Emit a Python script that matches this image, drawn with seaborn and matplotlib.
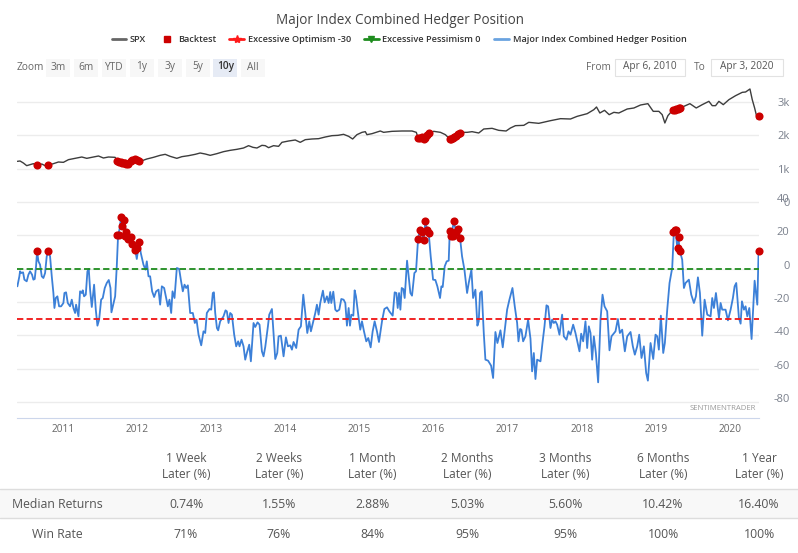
import numpy as np
import pandas as pd
import matplotlib
matplotlib.use('Agg')
import matplotlib.pyplot as plt
import matplotlib.transforms as mtrans
from matplotlib.lines import Line2D
from matplotlib.patches import Rectangle
import seaborn as sns

# all times are in years since 2010
spx_t = [.265,.301,.346,.391,.436,.481,.526,.594,.639,.684,.751,.819,.886,.954,1.044,1.134,1.201,1.269,1.359,1.426,
	1.494,1.584,1.615,1.674,1.755,1.795,1.854,1.912,2.011,2.101,2.191,2.259,2.326,2.416,2.484,2.574,2.664,2.731,2.799,2.866,
	2.956,3.046,3.136,3.226,3.316,3.384,3.443,3.497,3.564,3.609,3.654,3.721,3.789,3.834,3.924,4.014,4.081,4.149,4.239,4.329,
	4.419,4.509,4.59,4.666,4.734,4.788,4.846,4.914,4.959,4.981,5.049,5.161,5.206,5.319,5.454,5.589,5.647,5.67,5.724,5.756,
	5.814,5.882,5.972,6.039,6.107,6.174,6.242,6.332,6.399,6.489,6.557,6.669,6.759,6.858,6.917,6.984,7.097,7.164,7.299,7.457,
	7.592,7.727,7.817,7.952,8.042,8.078,8.123,8.186,8.249,8.312,8.379,8.492,8.582,8.672,8.771,8.843,8.919,8.964,9.0,9.041,
	9.099,9.167,9.257,9.338,9.423,9.504,9.594,9.639,9.684,9.729,9.788,9.864,9.954,10.044,10.089,10.148,10.179,10.211,10.247,10.269]
spx_val = [1220,1230,1170,1090,1120,1150,1100,1140,1090,1110,1150,1200,1190,1270,1310,1350,1310,1340,1380,1320,
	1350,1340,1220,1190,1140,1220,1290,1210,1290,1340,1400,1430,1370,1310,1360,1390,1430,1470,1440,1400,
	1450,1510,1550,1580,1620,1690,1640,1620,1700,1690,1630,1690,1670,1790,1830,1860,1790,1870,1890,1900,
	1950,1990,2000,2030,1970,1890,2020,2090,2110,2020,2050,2130,2090,2120,2130,2130,2090,1920,1950,1890,
	2070,2120,2090,2020,1870,1970,2090,2090,2110,2070,2190,2210,2150,2130,2220,2290,2300,2390,2360,2440,
	2500,2490,2570,2650,2770,2850,2670,2750,2620,2690,2670,2790,2820,2910,2950,2720,2720,2620,2370,2590,
	2740,2800,2870,2950,2820,2920,3020,2890,2890,3020,2920,3070,3190,3290,3300,3390,3070,2820,2490,2590]

hedger_t = [.265,.292,.301,.319,.342,.36,.391,.414,.436,.463,.481,.499,.517,.531,.549,.571,.594,.616,.639,.661,
	.684,.706,.729,.751,.765,.783,.805,.828,.855,.886,.9,.922,.945,.976,.999,1.021,1.044,1.057,1.089,1.111,
	1.134,1.147,1.165,1.188,1.21,1.228,1.246,1.269,1.3,1.323,1.345,1.368,1.395,1.417,1.444,1.471,1.498,1.521,1.534,1.561,
	1.584,1.606,1.624,1.642,1.665,1.678,1.705,1.732,1.759,1.786,1.818,1.854,1.876,1.908,1.93,1.966,1.993,2.011,2.034,2.056,
	2.083,2.11,2.137,2.169,2.191,2.214,2.245,2.268,2.295,2.317,2.34,2.358,2.385,2.416,2.448,2.47,2.497,2.52,2.542,2.565,
	2.596,2.632,2.659,2.682,2.709,2.745,2.776,2.799,2.821,2.857,2.88,2.902,2.916,2.934,2.957,2.974,3.001,3.046,3.073,3.091,
	3.114,3.136,3.159,3.19,3.217,3.244,3.262,3.289,3.316,3.339,3.361,3.393,3.415,3.451,3.474,3.505,3.532,3.564,3.586,3.609,
	3.645,3.663,3.699,3.721,3.744,3.771,3.789,3.82,3.856,3.888,3.915,3.946,3.969,3.991,4.027,4.059,4.09,4.122,4.149,4.176,
	4.203,4.225,4.252,4.284,4.306,4.329,4.351,4.387,4.41,4.441,4.464,4.486,4.5,4.527,4.554,4.576,4.608,4.635,4.666,4.689,
	4.711,4.734,4.752,4.77,4.797,4.815,4.833,4.869,4.891,4.914,4.941,4.972,4.999,5.031,5.058,5.085,5.116,5.143,5.184,5.216,
	5.252,5.283,5.328,5.355,5.378,5.396,5.414,5.432,5.45,5.472,5.49,5.522,5.544,5.567,5.589,5.621,5.643,5.67,5.693,5.715,
	5.747,5.769,5.792,5.814,5.841,5.873,5.904,5.931,5.967,5.985,6.003,6.03,6.057,6.084,6.098,6.12,6.152,6.183,6.215,6.237,
	6.264,6.296,6.332,6.354,6.39,6.413,6.444,6.471,6.489,6.507,6.53,6.557,6.579,6.615,6.656,6.683,6.714,6.741,6.782,6.813,
	6.84,6.872,6.903,6.944,6.975,7.007,7.025,7.047,7.065,7.088,7.119,7.155,7.187,7.209,7.232,7.254,7.277,7.322,7.349,7.376,
	7.403,7.425,7.457,7.479,7.502,7.524,7.547,7.578,7.614,7.637,7.673,7.7,7.727,7.763,7.794,7.848,7.871,7.898,7.929,7.952,
	7.974,7.997,8.019,8.042,8.069,8.1,8.132,8.159,8.186,8.222,8.253,8.28,8.334,8.366,8.393,8.424,8.46,8.492,8.537,8.568,
	8.595,8.627,8.654,8.685,8.717,8.748,8.771,8.807,8.843,8.874,8.897,8.919,8.946,8.978,9.0,9.032,9.063,9.099,9.122,9.144,
	9.167,9.18,9.203,9.234,9.257,9.279,9.324,9.356,9.392,9.419,9.446,9.473,9.504,9.536,9.572,9.617,9.639,9.662,9.689,9.73,
	9.752,9.774,9.819,9.851,9.887,9.918,9.941,9.963,9.999,10.022,10.04,10.067,10.089,10.112,10.139,10.17,10.211,10.247,10.265]
hedger_val = [-10.6,-4.6,-1.6,-2.6,-2.2,-6.6,-7.6,-3.6,-1.6,-3.6,-6.6,-6.2,1.4,10.4,4.4,2.4,-4.6,-5.6,-2.6,7.4,
	10.4,7.4,-4.6,-14.6,-23.6,-17.6,-16.6,-22.6,-22.6,-20.6,-14.6,-14.2,-20.6,-22.6,-18.6,-23.6,-26.6,-21.6,-28.6,-13.6,
	-14.6,-13,-16.6,-15.6,-1.6,-.2,-12.6,-23,-9.6,-24.6,-34.2,-30.6,-18.6,-17.6,-11.6,-8.6,-6.8,-11.6,-26.2,-21,
	-16.6,1.4,20.4,23.4,31,25.8,29,21.8,17.8,19.4,15,11.4,5.8,15.8,9.4,2.4,-.6,4.4,-4.6,-4.6,
	-13.6,-17,-13.6,-12.6,-21.6,-10.6,-11.6,-16.6,-22.6,-18.6,-26.6,-13.6,-17.6,.4,-.2,-6.6,-13.6,-9.6,-11.6,-10,
	-26.6,-26.6,-32.6,-30.6,-39.6,-46,-37.6,-38.6,-26.6,-24.2,-24.6,-14.6,-14.2,-26.6,-35.6,-37,-31.6,-28.6,-25,-25.6,
	-32.6,-26.6,-27.6,-39.6,-46.6,-43.6,-46.6,-42.6,-46.6,-54.6,-50.6,-45.6,-55.6,-32.6,-35,-32.2,-33.6,-49.6,-52.6,-47,
	-34.6,-27.6,-24.2,-38.6,-54.2,-50.6,-40.6,-40.2,-52.6,-41.2,-46.6,-46,-48.6,-44,-47.6,-36.6,-34.6,-15.6,-26.6,-38.6,
	-31.6,-37.6,-32.6,-26.6,-21.6,-27.6,-20.6,-13.2,-20.2,-16.6,-20.6,-14,-20.6,-13.8,-24.6,-25.6,-24.6,-18.2,-18.6,-20.6,
	-34.2,-23.6,-34.2,-27.6,-28.2,-13,-16.6,-29.6,-36.6,-31.6,-37.6,-43.6,-41.6,-47.2,-37.6,-31.6,-37.6,-44,-31.6,-24.2,
	-23.2,-25.6,-28.2,-14.2,-14.6,-23.6,-14.6,-24.6,-11.6,-12.2,-17.6,4.8,-4.6,-14.6,-16.2,-2.6,-1.6,17.4,23,22.4,
	17,28.8,23.4,21.4,7.4,-6.6,-6.8,-10.6,-17.6,-10.6,-11,1.4,4.4,4.8,22.4,19.4,28.4,22.4,24,18.4,
	7.4,-.6,-14.6,-8.6,-.6,-17.6,-12.6,-34.2,-31.6,-14.6,-13.6,-38.6,-54.6,-55.2,-58.2,-65.6,-38,-44.6,-37,-47.2,
	-36.6,-24.6,-18.6,-11.6,-22.6,-32.6,-43.6,-36.2,-36.6,-43.6,-40.6,-30.6,-42,-61.6,-50.6,-66.2,-54.6,-55.6,-44.6,-34.6,
	-22,-22.6,-35.6,-30.6,-32.6,-31.6,-33.6,-39.6,-27.6,-40.6,-42.6,-37.6,-39.6,-33.6,-38.6,-49.6,-39,-43.6,-31.6,-47.6,
	-34.6,-38.6,-54.6,-40.6,-50.6,-68.2,-30.6,-15.6,-22.6,-25.6,-49,-40.6,-37.6,-30.2,-38.6,-36.6,-49.6,-40.6,-38,-46.6,
	-51.6,-46.6,-39.6,-53.6,-46.6,-62.6,-67.2,-44.6,-54.2,-39.6,-40.6,-48.6,-28.2,-50.6,-44.6,-24.6,-8.6,.4,22.4,23.8,
	12.4,19.4,10.4,5.4,-11.6,-8.6,-6.6,-15.6,-20.6,-16.6,-5.2,-14.6,-40.2,-18.6,-27.6,-28.6,-17.6,-23.6,-14.6,-29.6,
	-20.6,-24.6,-24.6,-31,-24.6,-17.6,-10.6,-8.6,-29.6,-33,-19.6,-24.6,-22.6,-28.6,-23.6,-42.2,-7.2,-21.6,11.4]

backtest_t = [.531,.684,1.615,1.642,1.665,1.683,1.705,1.723,1.732,1.759,1.795,1.818,1.854,1.885,1.908,
	5.675,5.697,5.724,5.751,5.769,5.792,5.814,6.098,6.12,6.138,6.152,6.183,6.215,6.237,
	9.108,9.131,9.153,9.171,9.194,9.207,10.265]
backtest_val = [10.8,10.8,20.4,20.4,31,25.8,29,19.8,21.8,17.8,19.2,15,11.4,12.4,15.8,
	17.8,23,21.8,17,28.8,23,21.2,22.4,19.4,19.4,28.4,22,24,18.4,
	21.8,23.4,23.2,12.4,19,10.4,10.8]

optimism_level = -30
pessimism_level = 0
years = list(range(2011, 2021))
upper_ticks = [0, 1000, 2000, 3000]
upper_labels = ['0', '1k', '2k', '3k']
lower_ticks = [40, 20, 0, -20, -40, -60, -80]

zoom_labels = ['3m', '6m', 'YTD', '1y', '3y', '5y', '10y', 'All']
col_titles = ['1 Week', '2 Weeks', '1 Month', '2 Months', '3 Months', '6 Months', '1 Year']
median_returns = ['0.74%', '1.55%', '2.88%', '5.03%', '5.60%', '10.42%', '16.40%']
win_rate = ['71%', '76%', '84%', '95%', '95%', '100%', '100%']

W, H = 798, 553
GRID = '#ececec'
TXT = '#555555'
BLUE = '#3c80d8'
DOT = '#cc0000'


def fx(px):
	return px / W


def fy(px):
	return 1 - px / H


def label(x, y, s, size=8.5, color=TXT, ha='center', **kwargs):
	fig.text(fx(x), fy(y), s, fontsize=size, color=color, ha=ha, va='center', **kwargs)


def box(x0, y0, x1, y1, **kwargs):
	fig.add_artist(Rectangle((fx(x0), fy(y1)), (x1 - x0) / W, (y1 - y0) / H, transform=fig.transFigure, **kwargs))


sns.set_style('white')
plt.rcParams['font.family'] = ['Open Sans', 'DejaVu Sans']

spx = pd.DataFrame({'year': 2010 + np.array(spx_t), 'value': spx_val})
hedger = pd.DataFrame({'year': 2010 + np.array(hedger_t), 'value': hedger_val})
backtest = pd.DataFrame({'year': 2010 + np.array(backtest_t), 'hedger': backtest_val})
backtest['spx'] = np.interp(backtest['year'], spx['year'], spx['value'])

fig = plt.figure(figsize=(W / 100, H / 100), dpi=100)
left, right = 17, 759
x_min, x_max = 2010.26, 2020.27
ax_top = fig.add_axes([fx(left), fy(202), (right - left) / W, (202 - 85) / H])
ax_low = fig.add_axes([fx(left), fy(418), (right - left) / W, (418 - 202) / H])

sns.lineplot(data=spx, x='year', y='value', ax=ax_top, color='#3d3d3d', lw=1.0, sort=False, errorbar=None)
sns.scatterplot(data=backtest, x='year', y='spx', ax=ax_top, color=DOT, s=34, linewidth=0, zorder=5, clip_on=False)
ax_top.set_ylim(0, 3510)

sns.lineplot(data=hedger, x='year', y='value', ax=ax_low, color=BLUE, lw=1.3, sort=False, errorbar=None)
ax_low.axhline(pessimism_level, color='#1e8c1e', lw=1.3, ls=(0, (3.5, 1.8)), zorder=3)
ax_low.axhline(optimism_level, color='#f01414', lw=1.3, ls=(0, (3.5, 1.8)), zorder=3)
sns.scatterplot(data=backtest, x='year', y='hedger', ax=ax_low, color=DOT, s=34, linewidth=0, zorder=5, clip_on=False)
ax_low.set_ylim(-89.6, 40)

for ax, ticks in ((ax_top, upper_ticks), (ax_low, lower_ticks)):
	ax.set_xlim(x_min, x_max)
	ax.set_yticks(ticks)
	ax.yaxis.tick_right()
	ax.grid(axis='y', color=GRID, lw=1)
	ax.set_axisbelow(True)
	ax.set_xlabel('')
	ax.set_ylabel('')
	sns.despine(ax=ax, left=True, right=True, top=True, bottom=True)
	ax.patch.set_alpha(0)

ax_top.set_xticks([])
ax_top.set_yticklabels(upper_labels)
ax_low.set_yticklabels([str(t) for t in lower_ticks])
up_shift = mtrans.ScaledTranslation(0, 4 / 100, fig.dpi_scale_trans)
for ax in (ax_top, ax_low):
	ax.tick_params(axis='y', length=0, pad=22, labelsize=8, labelcolor='#7a808c')
	for lab in ax.get_yticklabels():
		lab.set_ha('right')
for lab in ax_low.get_yticklabels():
	lab.set_transform(lab.get_transform() + up_shift)

ax_low.spines['bottom'].set_visible(True)
ax_low.spines['bottom'].set_color('#ccd6eb')
ax_low.set_xticks(years)
ax_low.set_xticklabels([str(y) for y in years])
ax_low.tick_params(axis='x', length=10, width=1, color='#ccd6eb', pad=-6, labelsize=7.3, labelcolor='#666666')
left_shift = mtrans.ScaledTranslation(-9 / 100, 0, fig.dpi_scale_trans)
for lab in ax_low.get_xticklabels():
	lab.set_transform(lab.get_transform() + left_shift)

label(723, 409, 'SENTIMENTRADER', size=5.6, color='#9a9a9a')

# header
label(400, 20, 'Major Index Combined Hedger Position', size=9.75, color='#444444')
handles = [
	Line2D([], [], color='#666666', lw=2),
	Line2D([], [], color=DOT, marker='s', ms=4.5, ls='none'),
	Line2D([], [], color='#ff1a1a', lw=2, marker='*', ms=6),
	Line2D([], [], color='#1e8c1e', lw=2, marker='v', ms=4),
	Line2D([], [], color='#6aa3e0', lw=2),
]
names = ['SPX', 'Backtest', 'Excessive Optimism -30', 'Excessive Pessimism 0', 'Major Index Combined Hedger Position']
leg = fig.legend(handles, names, loc='center', bbox_to_anchor=(fx(399), fy(39.5)), ncol=5, frameon=False,
	fontsize=6.6, handlelength=1.6, handletextpad=0.4, columnspacing=1.45, borderpad=0)
for t in leg.get_texts():
	t.set_color('#333333')
	t.set_fontweight('semibold')

# range selector row
label(17, 67, 'Zoom', size=7.3, color='#666666', ha='left')
for i, z in enumerate(zoom_labels):
	cx = 58 + i * 27.9
	selected = z == '10y'
	box(cx - 12, 59, cx + 12, 77, facecolor='#e6ebf5' if selected else '#f7f7f7', edgecolor='none')
	label(cx, 67, z, size=7.3, color='#333333' if selected else '#666666', fontweight='semibold' if selected else 'normal')
label(598, 67, 'From', size=7.3, color='#666666')
box(615, 59, 685, 76, facecolor='white', edgecolor='#e2e2e2', lw=0.8)
label(650, 67, 'Apr 6, 2010', size=7.3, color='#555555')
label(700, 67, 'To', size=7.3, color='#666666')
box(711, 59, 783, 76, facecolor='white', edgecolor='#e2e2e2', lw=0.8)
label(747, 67, 'Apr 3, 2020', size=7.3, color='#555555')

# returns table
box(0, 489, W, 518, facecolor='#f8f8f8', edgecolor='none')
for y in (489, 518):
	fig.add_artist(Line2D([0, 1], [fy(y), fy(y)], color='#dddddd', lw=1))
col_x = [186, 279, 372, 467, 565, 663, 759]
for cx, title, med, win in zip(col_x, col_titles, median_returns, win_rate):
	label(cx, 459, title, size=8.6)
	label(cx, 474, 'Later (%)', size=8.6)
	label(cx, 504, med, size=8.8)
	label(cx, 534, win, size=8.8)
label(57, 504, 'Median Returns', size=8.8)
label(57, 534, 'Win Rate', size=8.8)

fig.savefig('out.png', dpi=100)
